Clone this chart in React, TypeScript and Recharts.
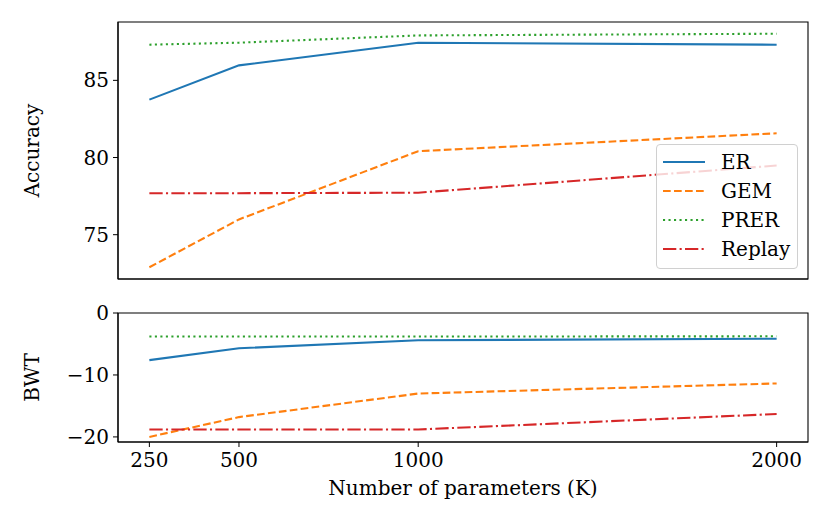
import React from 'react';
import { LineChart, Line, XAxis, YAxis, Legend, Label, ReferenceArea } from 'recharts';

const params = [250, 500, 1000, 2000];
const xTicks = [250, 500, 1000, 2000];

const accER = [83.75, 85.97, 87.44, 87.31];
const accGEM = [72.89, 75.99, 80.41, 81.57];
const accPRER = [87.31, 87.44, 87.91, 88.02];
const accReplay = [77.69, 77.69, 77.72, 79.48];
const accTicks = [75, 80, 85];

const bwtER = [-7.6, -5.7, -4.4, -4.15];
const bwtGEM = [-20.0, -16.8, -13.0, -11.37];
const bwtPRER = [-3.8, -3.8, -3.8, -3.76];
const bwtReplay = [-18.8, -18.8, -18.8, -16.3];
const bwtTicks = [-20, -10, 0];

const series = [
  { key: 'ER', color: '#1f77b4', dash: undefined as string | undefined },
  { key: 'GEM', color: '#ff7f0e', dash: '7.7 3.3' },
  { key: 'PRER', color: '#2ca02c', dash: '2.1 3.4' },
  { key: 'Replay', color: '#d62728', dash: '13.3 3.3 2.1 3.3' },
];

const accData = params.map((p, i) => ({
  p,
  ER: accER[i],
  GEM: accGEM[i],
  PRER: accPRER[i],
  Replay: accReplay[i],
}));

const bwtData = params.map((p, i) => ({
  p,
  ER: bwtER[i],
  GEM: bwtGEM[i],
  PRER: bwtPRER[i],
  Replay: bwtReplay[i],
}));

const FONT = '"DejaVu Serif", serif';
const FS = 20;
const xDomain: [number, number] = [162.5, 2087.5];
const accDomain: [number, number] = [72.13, 88.78];
const bwtDomain: [number, number] = [-20.82, 0];
const tickStyle = { fontFamily: FONT, fontSize: FS, fill: '#000' };
const spine = { stroke: '#000', strokeWidth: 1.1 };
const minus = (v: number) => String(v).replace('-', '\u2212');

const yLabel = (text: string) => (props: any) => {
  const vb = props.viewBox;
  const cy = vb.y + vb.height / 2;
  return (
    <text
      x={39}
      y={cy}
      transform={`rotate(-90, 39, ${cy})`}
      textAnchor="middle"
      style={{ fontFamily: FONT, fontSize: FS, fill: '#000' }}
    >
      {text}
    </text>
  );
};

const LegendBox = () => (
  <div
    style={{
      width: 142,
      height: 125,
      boxSizing: 'border-box',
      border: '1px solid #d0d0d0',
      borderRadius: 4,
      background: 'rgba(255,255,255,0.8)',
    }}
  >
    <svg width={142} height={125} style={{ display: 'block' }}>
      {series.map((s, i) => {
        const y = 17 + i * 29;
        return (
          <g key={s.key}>
            <line x1={6} x2={48} y1={y} y2={y} stroke={s.color} strokeWidth={2.1} strokeDasharray={s.dash} />
            <text x={64} y={y + 7} style={{ fontFamily: FONT, fontSize: FS, fill: '#000' }}>
              {s.key}
            </text>
          </g>
        );
      })}
    </svg>
  </div>
);

const lines = () =>
  series.map((s) => (
    <Line
      key={s.key}
      dataKey={s.key}
      name={s.key}
      type="linear"
      stroke={s.color}
      strokeWidth={2.1}
      strokeDasharray={s.dash}
      dot={false}
      activeDot={false}
      isAnimationActive={false}
    />
  ));

const frame = (yd: [number, number]) => (
  <ReferenceArea
    x1={xDomain[0]}
    x2={xDomain[1]}
    y1={yd[0]}
    y2={yd[1]}
    fill="none"
    fillOpacity={0}
    stroke="#000"
    strokeWidth={1.1}
  />
);

export default function App() {
  return (
    <div style={{ position: 'absolute', left: 0, top: 0, width: 830, height: 519, background: '#fff' }}>
      <LineChart width={830} height={290} data={accData} margin={{ top: 22, right: 22, left: 0, bottom: 0 }}>
        <XAxis
          dataKey="p"
          type="number"
          domain={xDomain}
          ticks={xTicks}
          tick={false}
          tickLine={false}
          stroke="#000"
          axisLine={spine}
          height={11}
        />
        <YAxis
          type="number"
          domain={accDomain}
          ticks={accTicks}
          allowDataOverflow
          width={118}
          tick={tickStyle}
          tickSize={5}
          tickMargin={4}
          stroke="#000"
          tickLine={{ stroke: '#000' }}
          axisLine={spine}
        >
          <Label content={yLabel('Accuracy')} />
        </YAxis>
        {frame(accDomain)}
        {lines()}
        <Legend
          layout="vertical"
          align="center"
          verticalAlign="middle"
          wrapperStyle={{ position: 'absolute', left: 656, top: 144, width: 142, height: 125 }}
          content={() => <LegendBox />}
        />
      </LineChart>
      <LineChart width={830} height={229} data={bwtData} margin={{ top: 23, right: 22, left: 0, bottom: 0 }}>
        <XAxis
          dataKey="p"
          type="number"
          domain={xDomain}
          ticks={xTicks}
          height={77}
          tick={tickStyle}
          tickSize={5}
          tickMargin={6}
          stroke="#000"
          tickLine={{ stroke: '#000' }}
          axisLine={spine}
        >
          <Label
            value="Number of parameters (K)"
            position="insideBottom"
            offset={24}
            style={{ fontFamily: FONT, fontSize: FS, fill: '#000' }}
          />
        </XAxis>
        <YAxis
          type="number"
          domain={bwtDomain}
          ticks={bwtTicks}
          allowDataOverflow
          width={118}
          tick={tickStyle}
          tickSize={5}
          tickMargin={4}
          stroke="#000"
          tickLine={{ stroke: '#000' }}
          tickFormatter={minus}
          axisLine={spine}
        >
          <Label content={yLabel('BWT')} />
        </YAxis>
        {frame(bwtDomain)}
        {lines()}
      </LineChart>
    </div>
  );
}
